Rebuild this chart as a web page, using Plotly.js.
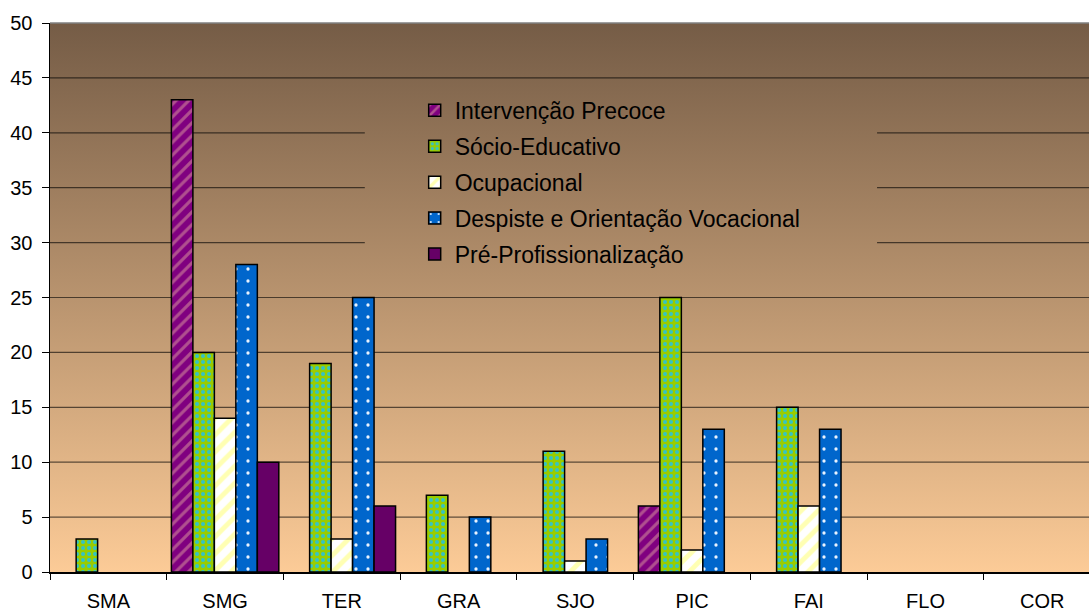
<!DOCTYPE html>
<html>
<head>
<meta charset="utf-8">
<script src="https://cdn.plot.ly/plotly-3.0.1.min.js"></script>
<style>
  html, body { margin: 0; padding: 0; background: #ffffff; }
  #wrap { position: relative; width: 1089px; height: 614px; }
  #bg { position: absolute; left: 50px; top: 23px; width: 1039px; height: 549px;
        background: linear-gradient(to bottom, #755c46 0%, #fccb97 100%); }
  #chart { position: absolute; left: 0; top: 0; width: 1089px; height: 614px; }
</style>
</head>
<body>
<div id="wrap">
  <div id="bg"></div>
  <div id="chart"></div>
</div>
<script>
// ---- data ----
const categories = ['SMA', 'SMG', 'TER', 'GRA', 'SJO', 'PIC', 'FAI', 'FLO', 'COR'];
const seriesNames = ['Intervenção Precoce', 'Sócio-Educativo', 'Ocupacional',
                     'Despiste e Orientação Vocacional', 'Pré-Profissionalização'];
const intervencaoPrecoce = [0, 43, 0, 0, 0, 6, 0, 0, 0];
const socioEducativo     = [3, 20, 19, 7, 11, 25, 15, 0, 0];
const ocupacional        = [0, 14, 3, 0, 1, 2, 6, 0, 0];
const despiste           = [0, 28, 25, 5, 3, 13, 13, 0, 0];
const preProfissional    = [0, 10, 6, 0, 0, 0, 0, 0, 0];
const yTickValues = [0, 5, 10, 15, 20, 25, 30, 35, 40, 45, 50];

// ---- styling ----
const FONT = 'Liberation Sans, Arial, sans-serif';
const styles = [
  {color: '#800080', pattern: {shape: '/', fgcolor: '#b0508f', bgcolor: '#800080', size: 9, solidity: 0.35}},
  {color: '#99cc00', pattern: {shape: '.', fgcolor: '#33c4c4', bgcolor: '#99cc00', size: 6, solidity: 0.35}},
  {color: '#ffffff', pattern: {shape: '/', fgcolor: '#ffffb3', bgcolor: '#ffffff', size: 12, solidity: 0.4}},
  {color: '#0066cc', pattern: {shape: '.', fgcolor: '#e8f2ff', bgcolor: '#0066cc', size: 12, solidity: 0.06}},
  {color: '#660066'}
];
const values = [intervencaoPrecoce, socioEducativo, ocupacional, despiste, preProfissional];

// zero values are not drawn (as in the original), so they become gaps
const traces = values.map((v, i) => ({
  type: 'bar',
  name: seriesNames[i],
  x: categories,
  y: v.map(val => (val === 0 ? null : val)),
  legendgroup: 'g' + i,
  marker: Object.assign({line: {color: '#000000', width: 1.5}}, styles[i]),
  hoverinfo: 'x+y+name'
}));

// gridlines drawn as shapes so the legend area stays clear
const gridColor = 'rgba(0,0,0,0.6)';
const legendGapLeft = 0.303, legendGapRight = 0.796;
const interrupted = [30, 35, 40];
const shapes = [];
yTickValues.forEach(t => {
  if (t === 0 || t === 50) return;
  const seg = interrupted.includes(t) ? [[0, legendGapLeft], [legendGapRight, 1]] : [[0, 1]];
  seg.forEach(s => shapes.push({
    type: 'line', xref: 'paper', yref: 'y', x0: s[0], x1: s[1], y0: t, y1: t,
    line: {color: gridColor, width: 1.2}, layer: 'below'
  }));
});
// top border of plot area
shapes.push({type: 'line', xref: 'paper', yref: 'paper', x0: 0, x1: 1, y0: 1, y1: 1,
             line: {color: '#808080', width: 1.5}, layer: 'below'});

const layout = {
  width: 1089, height: 614,
  margin: {l: 50, r: 0, t: 23, b: 42},
  paper_bgcolor: 'rgba(0,0,0,0)',
  plot_bgcolor: 'rgba(0,0,0,0)',
  font: {family: FONT, color: '#000000'},
  barmode: 'group',
  bargap: 0.08,
  bargroupgap: 0,
  showlegend: true,
  legend: {
    x: 0.351, y: 0.88, xanchor: 'left', yanchor: 'top',
    bgcolor: 'rgba(0,0,0,0)', borderwidth: 0,
    font: {family: FONT, size: 23, color: '#000000'},
    tracegroupgap: 3, traceorder: 'grouped'
  },
  xaxis: {
    type: 'category',
    range: [-0.5, 8.4],
    showline: true, linecolor: '#000000', linewidth: 1.5,
    ticks: 'outside', ticklen: 6, tickcolor: '#000000', tickwidth: 1,
    tickson: 'boundaries',
    showgrid: false, zeroline: false,
    tickfont: {family: FONT, size: 20, color: '#000000'},
    ticklabelstandoff: 10
  },
  yaxis: {
    range: [0, 50],
    tickvals: yTickValues,
    showline: true, linecolor: '#000000', linewidth: 1.5,
    ticks: 'outside', ticklen: 7, tickcolor: '#000000', tickwidth: 1,
    showgrid: false, zeroline: false,
    tickfont: {family: FONT, size: 20, color: '#000000'},
    ticklabelstandoff: 5
  },
  shapes: shapes
};

Plotly.newPlot('chart', traces, layout, {displayModeBar: false, staticPlot: true});
</script>
</body>
</html>
